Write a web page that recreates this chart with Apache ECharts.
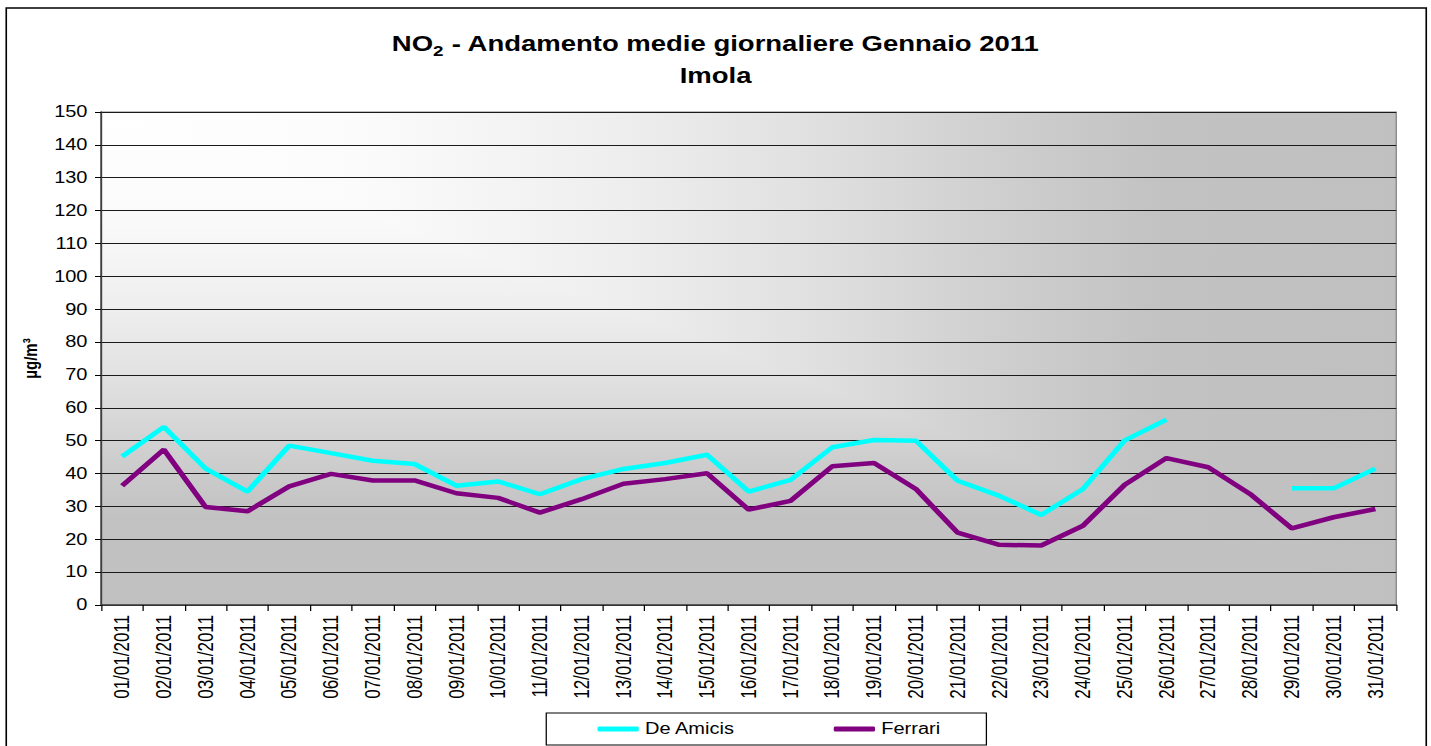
<!DOCTYPE html>
<html>
<head>
<meta charset="utf-8">
<script src="https://cdn.jsdelivr.net/npm/echarts@6/dist/echarts.min.js"></script>
<style>
  html, body { margin: 0; padding: 0; background: #fff; overflow: hidden; }
  /* the original picture is a horizontally stretched Excel chart */
  #chart { width: 1145px; height: 746px; transform: scaleX(1.25); transform-origin: 0 0; }
</style>
</head>
<body>
<div id="chart"></div>
<script>
// dati: medie giornaliere NO2, gennaio 2011
const days = [
  '01/01/2011','02/01/2011','03/01/2011','04/01/2011','05/01/2011','06/01/2011','07/01/2011','08/01/2011',
  '09/01/2011','10/01/2011','11/01/2011','12/01/2011','13/01/2011','14/01/2011','15/01/2011','16/01/2011',
  '17/01/2011','18/01/2011','19/01/2011','20/01/2011','21/01/2011','22/01/2011','23/01/2011','24/01/2011',
  '25/01/2011','26/01/2011','27/01/2011','28/01/2011','29/01/2011','30/01/2011','31/01/2011'
];
const deAmicis = [45.2, 54.2, 41.5, 34.5, 48.5, 46.2, 43.9, 42.9, 36.3, 37.6, 33.7, 38.3, 41.4, 43.2, 45.7, 34.5,
  38.1, 48.0, 50.2, 50.0, 37.8, 33.2, 27.4, 35.3, 50.1, 56.4, null, null, 35.5, 35.5, 41.5];
const ferrari = [36.3, 47.3, 29.8, 28.5, 36.1, 39.9, 37.9, 37.9, 34.0, 32.6, 28.1, 32.2, 36.9, 38.3, 40.1, 29.0,
  31.7, 42.2, 43.2, 35.3, 22.0, 18.3, 18.1, 24.1, 36.6, 44.7, 41.9, 33.8, 23.3, 26.7, 29.2];
const yMin = 0, yMax = 150, yStep = 10;

const FONT = '"Liberation Sans", Arial, sans-serif';
const W = 1145, H = 746;
const G = { left: 81, top: 112, right: 28, bottom: 141 };
const L = G.left, T = G.top, R = W - G.right, B = H - G.bottom;

// sfumatura "dall'angolo" come in Excel
const stops = [
  { offset: 0, color: '#ffffff' },
  { offset: 0.2, color: '#fbfbfb' },
  { offset: 0.4, color: '#eeeeee' },
  { offset: 0.55, color: '#e0e0e0' },
  { offset: 0.7, color: '#cecece' },
  { offset: 0.82, color: '#c2c2c2' },
  { offset: 1, color: '#c0c0c0' }
];

const myChart = echarts.init(document.getElementById('chart'), null, { renderer: 'svg' });

const option = {
  animation: false,
  backgroundColor: '#fff',
  title: [
    {
      left: 'center', top: 28, padding: 0,
      text: '{a|NO}{s|2}{a| - Andamento medie giornaliere Gennaio 2011}',
      textStyle: {
        rich: {
          a: { fontFamily: FONT, fontWeight: 'bold', fontSize: 22, color: '#000', lineHeight: 31 },
          s: { fontFamily: FONT, fontWeight: 'bold', fontSize: 15, color: '#000', lineHeight: 18, verticalAlign: 'bottom' }
        }
      }
    },
    {
      left: 'center', top: 60, padding: 0,
      text: 'Imola',
      textStyle: { fontFamily: FONT, fontWeight: 'bold', fontSize: 22, color: '#000', lineHeight: 31 }
    }
  ],
  graphic: [
    {
      // tutto il riquadro con la sfumatura orizzontale
      type: 'polygon', z: -11, silent: true,
      shape: { points: [[L, T], [R, T], [R, B], [L, B]] },
      style: { fill: new echarts.graphic.LinearGradient(0, 0, 1, 0, stops) }
    },
    {
      // triangolo in basso a sinistra con la sfumatura verticale
      type: 'polygon', z: -10, silent: true,
      shape: { points: [[L, T], [L, B], [R, B]] },
      style: { fill: new echarts.graphic.LinearGradient(0, 0, 0, 1, stops) }
    },
    {
      type: 'rect', z: 100, silent: true,
      shape: { x: 5, y: 8, width: 1136, height: 760 },
      style: { fill: 'none', stroke: '#000', lineWidth: 1.3 }
    }
  ],
  legend: {
    left: 437, top: 713,
    padding: [8, 37, 8, 41],
    itemGap: 79,
    itemWidth: 33, itemHeight: 5,
    icon: 'roundRect',
    borderColor: '#000', borderWidth: 1,
    textStyle: { fontFamily: FONT, fontSize: 16, color: '#000' },
    data: ['De Amicis', 'Ferrari']
  },
  grid: {
    left: G.left, top: G.top, right: G.right, bottom: G.bottom,
    show: true, borderColor: '#808080', borderWidth: 1, backgroundColor: 'transparent'
  },
  xAxis: {
    type: 'category',
    data: days,
    boundaryGap: true,
    axisLine: { lineStyle: { color: '#404040', width: 1.5 } },
    axisTick: { show: true, length: 6, inside: false, lineStyle: { color: '#000' } },
    axisLabel: { rotate: 90, interval: 0, margin: 10, fontFamily: FONT, fontSize: 17, color: '#000' },
    splitLine: { show: false }
  },
  yAxis: {
    type: 'value',
    min: yMin, max: yMax, interval: yStep,
    name: 'µg/m³',
    nameLocation: 'middle',
    nameRotate: 90,
    nameGap: 56,
    nameTextStyle: { fontFamily: FONT, fontWeight: 'bold', fontSize: 15, color: '#000', verticalAlign: 'middle' },
    axisLine: { show: true, lineStyle: { color: '#404040', width: 1.5 } },
    axisTick: { show: true, length: 5, lineStyle: { color: '#000' } },
    axisLabel: { margin: 11, fontFamily: FONT, fontSize: 16, color: '#000' },
    splitLine: { show: true, lineStyle: { color: '#1a1a1a', width: 1 } }
  },
  series: [
    {
      name: 'De Amicis',
      type: 'line',
      data: deAmicis,
      symbol: 'none',
      connectNulls: false,
      itemStyle: { color: '#00ffff' },
      lineStyle: { color: '#00ffff', width: 4.5 }
    },
    {
      name: 'Ferrari',
      type: 'line',
      data: ferrari,
      symbol: 'none',
      itemStyle: { color: '#800080' },
      lineStyle: { color: '#800080', width: 4.5 }
    }
  ]
};

myChart.setOption(option);
</script>
</body>
</html>
